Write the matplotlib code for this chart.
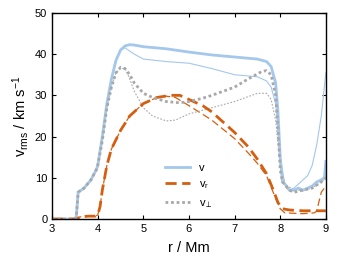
import numpy as np
import matplotlib
matplotlib.use("Agg")
import matplotlib.pyplot as plt

plt.rcParams['font.family'] = ['Liberation Sans', 'DejaVu Sans']
plt.rcParams['mathtext.fontset'] = 'custom'
plt.rcParams['mathtext.rm'] = 'Liberation Sans'
plt.rcParams['mathtext.it'] = 'Liberation Sans'

# 粗线：模型 1
r_v1 = [3.0, 3.5, 3.53, 3.57, 3.7, 3.85, 3.97, 4.0, 4.1, 4.2, 4.3, 4.4, 4.5, 4.6, 4.7, 4.8, 5.0, 5.5,
        6.0, 6.5, 7.0, 7.5, 7.7, 7.8, 7.9, 7.95, 8.0, 8.05, 8.1, 8.2, 8.3, 8.4, 8.5, 8.6, 8.7, 8.8,
        8.9, 8.97, 9.0]
v1 = [0, 0, 0.5, 6.5, 7.5, 9.5, 12, 13, 20, 28, 34, 38.5, 41, 42, 42.3, 42.2, 41.8, 41.3,
      40.5, 39.8, 39.3, 38.8, 38.2, 37, 33, 26, 15, 9, 8.5, 7, 7, 7.5, 7, 7.5, 8, 9,
      9.5, 10, 14]

r_vp1 = [3.0, 3.5, 3.53, 3.57, 3.7, 3.85, 3.97, 4.0, 4.1, 4.2, 4.3, 4.4, 4.5, 4.6, 4.7, 4.8, 5.0, 5.2,
         5.5, 5.8, 6.0, 6.3, 6.5, 7.0, 7.3, 7.6, 7.7, 7.8, 7.9, 7.95, 8.0, 8.05, 8.2, 8.3, 8.5,
         8.7, 8.9, 9.0]
vp1 = [0, 0, 0.5, 6.5, 7.5, 9.5, 12, 13, 19, 27, 32, 35.5, 36.8, 36.5, 35, 33, 30.5, 29.5,
       28.5, 28.2, 28.5, 29.3, 30, 32, 34, 35.8, 36, 35, 30, 22, 12, 9, 7, 6.5, 7,
       7.5, 9, 10]

r_vr1 = [3.0, 3.55, 3.6, 3.8, 3.95, 4.0, 4.05, 4.1, 4.2, 4.3, 4.5, 4.7, 5.0, 5.3, 5.6, 5.8, 6.0, 6.3,
         6.5, 6.8, 7.0, 7.3, 7.5, 7.7, 7.85, 7.95, 8.05, 8.2, 8.5, 8.8, 9.0]
vr1 = [0, 0, 0.5, 0.7, 0.7, 1, 3, 7, 13, 17, 21.5, 25, 28, 29.5, 30, 30, 29, 27.5,
       26, 23, 21, 17.5, 14.5, 11, 7, 4, 2.5, 2.2, 2, 2, 2]

# 细线：模型 2
r_v2 = [3.0, 3.5, 3.53, 3.57, 3.7, 3.85, 3.97, 4.0, 4.1, 4.2, 4.3, 4.4, 4.5, 4.6, 4.8, 5.0, 5.5,
        6.0, 6.5, 7.0, 7.5, 7.7, 7.8, 7.9, 8.0, 8.1, 8.2, 8.3, 8.4, 8.5, 8.6, 8.7, 8.8, 8.9, 9.0]
v2 = [0, 0, 0.5, 6.5, 7.5, 9.5, 12, 13, 20, 28, 34, 38.5, 41, 41.5, 40, 38.8, 38.2,
      37.8, 36.5, 35, 34.5, 33.5, 32, 28, 15, 8.5, 7, 7.5, 8.5, 9.5, 10.5, 13, 18, 25, 35.5]

r_vp2 = [3.0, 3.5, 3.53, 3.57, 3.7, 3.85, 3.97, 4.0, 4.1, 4.2, 4.3, 4.4, 4.5, 4.6, 4.7, 4.8, 5.0, 5.2,
         5.5, 5.7, 6.0, 6.5, 7.0, 7.5, 7.7, 7.8, 7.9, 8.0, 8.1, 8.3, 8.5, 8.7, 8.9, 9.0]
vp2 = [0, 0, 0.5, 6.5, 7.5, 9.5, 12, 13, 19, 27, 32, 35.5, 36.5, 36.5, 34, 31, 27, 25,
       23.8, 24, 25.5, 27, 28.5, 30.5, 30.5, 29, 24, 13, 8.5, 7, 7, 7.5, 9, 10]

r_vr2 = [3.0, 3.55, 3.6, 3.8, 3.95, 4.0, 4.05, 4.1, 4.2, 4.3, 4.5, 4.7, 5.0, 5.3, 5.5, 5.7, 6.0, 6.5,
         7.0, 7.3, 7.5, 7.7, 7.9, 8.0, 8.1, 8.5, 8.75, 8.8, 8.9, 9.0]
vr2 = [0, 0, 0.5, 0.7, 0.7, 1, 3, 7, 13, 17, 21.5, 25, 28, 29.5, 29.8, 29.5, 27.5, 24,
       19.5, 16, 13.5, 10.5, 5, 2.5, 1.5, 1.3, 1.5, 2, 6.5, 8]

c_v = '#a4c8ec'
c_vr = '#d45f10'
c_vp = '#a8a8a8'

fig = plt.figure(figsize=(3.43, 2.58), dpi=100)
ax = fig.add_axes([0.152, 0.151, 0.798, 0.799])

# 细线（模型 2）
ax.plot(r_v2, v2, color=c_v, lw=0.8)
ax.plot(r_vr2, vr2, color=c_vr, lw=0.9, dashes=(6, 3))
ax.plot(r_vp2, vp2, color=c_vp, lw=0.8, dashes=(1.5, 1.5))

# 粗线（模型 1）
ax.plot(r_v1, v1, color=c_v, lw=2.0, label='v')
ax.plot(r_vr1, vr1, color=c_vr, lw=2.0, dashes=(4, 2), label=r'v$_\mathregular{r}$')
ax.plot(r_vp1, vp1, color=c_vp, lw=2.0, dashes=(1, 1), label=r'v$_\perp$')

ax.set_xlim(3, 9)
ax.set_ylim(0, 50)
ax.set_xticks(np.arange(3, 10, 1))
ax.set_yticks(np.arange(0, 51, 10))
ax.tick_params(direction='in', top=True, right=True, labelsize=8, length=3, width=0.8)
for spine in ax.spines.values():
    spine.set_linewidth(1.0)
    spine.set_color('black')

ax.set_xlabel('r / Mm', fontsize=10.5, labelpad=5)
ax.set_ylabel(r'v$_\mathregular{rms}$ / km s$^\mathregular{-1}$', fontsize=10.5, labelpad=3)

ax.legend(loc='center', bbox_to_anchor=(0.5, 0.16), frameon=False, fontsize=8,
          handlelength=2.3, handletextpad=0.8, labelspacing=0.6)

fig.savefig('out.png', dpi=100)
